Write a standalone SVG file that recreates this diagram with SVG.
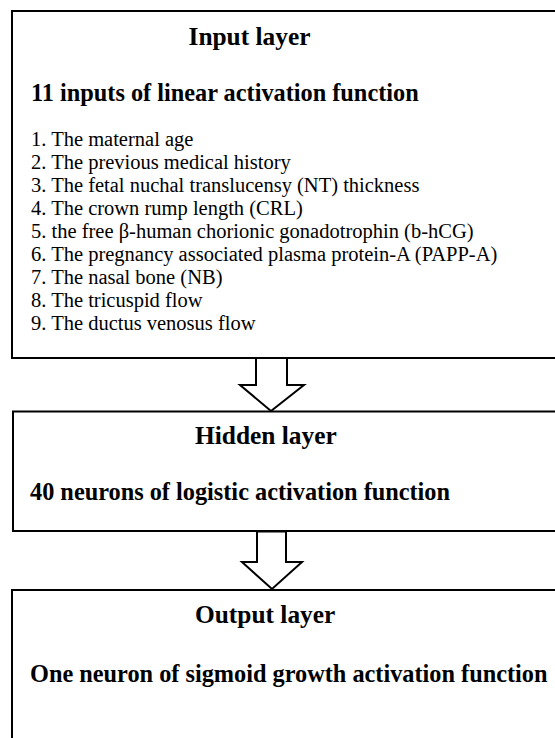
<svg xmlns="http://www.w3.org/2000/svg" width="555" height="738" viewBox="0 0 555 738">
<style>
.box{fill:#fff;stroke:#000;stroke-width:2}
.arrow{fill:#fff;stroke:#000;stroke-width:2;stroke-linejoin:miter}
.title{font-family:"Liberation Serif","Times New Roman",serif;font-weight:bold;font-size:25.4px;fill:#000}
.sub{font-family:"Liberation Serif","Times New Roman",serif;font-weight:bold;font-size:24.3px;fill:#000}
.item{font-family:"Liberation Serif","Times New Roman",serif;font-size:20.5px;fill:#000}
</style>
<rect width="555" height="738" fill="#fff"/>
<g id="input-layer">
<rect class="box" x="12" y="11" width="560" height="347"/>
<text class="title" x="188.5" y="45">Input layer</text>
<text class="sub" x="31" y="101">11 inputs of linear activation function</text>
<text class="item" x="31" y="146">1. The maternal age</text>
<text class="item" x="31" y="169">2. The previous medical history</text>
<text class="item" x="31" y="192">3. The fetal nuchal translucensy (NT) thickness</text>
<text class="item" x="31" y="215">4. The crown rump length (CRL)</text>
<text class="item" x="31" y="238">5. the free β-human chorionic gonadotrophin (b-hCG)</text>
<text class="item" x="31" y="261">6. The pregnancy associated plasma protein-A (PAPP-A)</text>
<text class="item" x="31" y="284">7. The nasal bone (NB)</text>
<text class="item" x="31" y="307">8. The tricuspid flow</text>
<text class="item" x="31" y="330">9. The ductus venosus flow</text>
</g>
<g id="hidden-layer">
<rect class="box" x="13" y="411.5" width="560" height="119.5"/>
<text class="title" x="195" y="444">Hidden layer</text>
<text class="sub" x="30" y="500">40 neurons of logistic activation function</text>
</g>
<g id="output-layer">
<rect class="box" x="12" y="590" width="560" height="160"/>
<text class="title" x="195" y="623">Output layer</text>
<text class="sub" x="30" y="682">One neuron of sigmoid growth activation function</text>
</g>
<g id="connectors">
<polygon class="arrow" points="256,358 256,385 240,385 271,411 304,385 287,385 287,358"/>
<polygon class="arrow" points="257,531.5 257,562 242,562 272,589 302,562 286,562 286,531.5"/>
</g>
</svg>
